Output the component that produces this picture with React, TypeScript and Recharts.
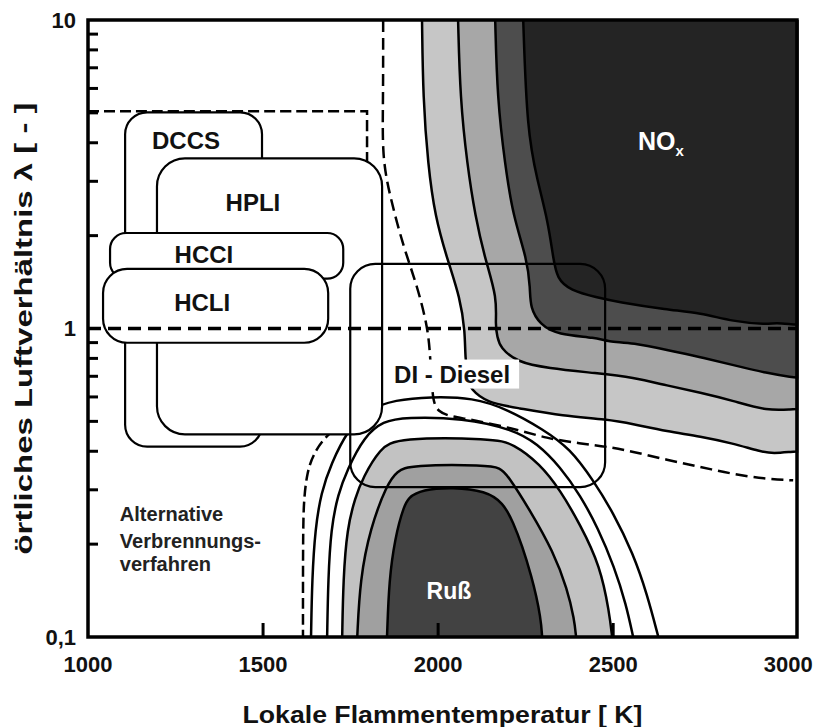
import React from 'react';
import { ScatterChart, Scatter, XAxis, YAxis } from 'recharts';

type P = [number, number]; // [Temperatur K, Luftverhältnis λ]

const FONT = "'Liberation Sans', Arial, Helvetica, sans-serif";

// Achsen
const xTicks = [1000, 1500, 2000, 2500, 3000];
const yTicks = [0.1, 1, 10];
const yMinorTicks = [0.2, 0.3, 0.4, 0.5, 0.6, 0.7, 0.8, 0.9, 2, 3, 4, 5, 6, 7, 8, 9];
const xMinorTicks = [1500, 2000, 2500];

// NOx-Zonen, Konturen von außen nach innen (jeweils bis zum rechten Rand)
const noxOuter: P[] = [
  [1954, 10], [1957, 5.56], [1971, 3.4], [1991, 2.31], [2026, 1.68], [2063, 1.255],
  [2077, 0.977], [2077, 0.802], [2086, 0.68], [2091, 0.639], [2140, 0.574], [2226, 0.553],
  [2357, 0.52], [2483, 0.508], [2557, 0.49], [2654, 0.464], [2749, 0.447], [2843, 0.424],
  [2920, 0.399], [2957, 0.393], [3014, 0.399],
  [3025, 0.399], [3025, 0.399], [3025, 0.399], [3025, 10],
];
const noxMid: P[] = [
  [2057, 10], [2063, 5.56], [2083, 3.4], [2106, 2.31], [2134, 1.68], [2169, 1.255],
  [2163, 1.03], [2169, 0.94], [2177, 0.866], [2226, 0.778], [2311, 0.744], [2454, 0.716],
  [2557, 0.694], [2654, 0.653], [2749, 0.62], [2843, 0.583], [2940, 0.54], [3014, 0.548],
  [3025, 0.548], [3025, 0.548], [3025, 0.548], [3025, 10],
];
const noxInner: P[] = [
  [2163, 10], [2169, 5.56], [2191, 3.4], [2214, 2.31], [2254, 1.68], [2263, 1.35],
  [2263, 1.166], [2291, 1.03], [2340, 0.955], [2454, 0.934], [2483, 0.906], [2557, 0.899],
  [2654, 0.852], [2749, 0.808], [2843, 0.761], [2940, 0.716], [3014, 0.694],
  [3025, 0.694], [3025, 0.694], [3025, 0.694], [3025, 10],
];
const noxCore: P[] = [
  [2243, 10], [2254, 4.37], [2283, 3.03], [2314, 2.22], [2329, 1.68], [2340, 1.45],
  [2377, 1.33], [2454, 1.26], [2511, 1.22], [2654, 1.15], [2749, 1.124], [2843, 1.053],
  [2940, 1.03], [2963, 1.045], [3014, 1.03],
  [3025, 1.03], [3025, 1.03], [3025, 1.03], [3025, 10],
];

// Ruß-Zonen
const russOuter: P[] = [
  [1726, 0.1], [1729, 0.154], [1740, 0.225], [1763, 0.283], [1786, 0.33], [1834, 0.408],
  [1883, 0.443], [2157, 0.44], [2214, 0.424], [2291, 0.364], [2349, 0.299], [2406, 0.231],
  [2463, 0.17], [2489, 0.12], [2497, 0.1],
];
const russMid: P[] = [
  [1769, 0.1], [1777, 0.154], [1806, 0.225], [1854, 0.313], [1883, 0.345], [1920, 0.361],
  [2140, 0.361], [2177, 0.353], [2197, 0.337], [2263, 0.257], [2329, 0.189], [2369, 0.143],
  [2389, 0.114], [2394, 0.1],
];
const russCore: P[] = [
  [1854, 0.1], [1860, 0.154], [1877, 0.209], [1900, 0.263], [1929, 0.306], [2157, 0.306],
  [2214, 0.243], [2271, 0.154], [2294, 0.114], [2297, 0.1],
];
const russLine1: P[] = [
  [1683, 0.1], [1686, 0.154], [1694, 0.225], [1714, 0.29], [1740, 0.348], [1789, 0.447],
  [1843, 0.501], [1906, 0.516], [2071, 0.513], [2214, 0.471], [2283, 0.424], [2349, 0.356],
  [2406, 0.288], [2457, 0.225], [2503, 0.169], [2537, 0.1275], [2557, 0.1],
];
const russLine2: P[] = [
  [1637, 0.1], [1640, 0.154], [1649, 0.225], [1666, 0.294], [1694, 0.364], [1743, 0.471],
  [1800, 0.548], [1877, 0.587], [1977, 0.601], [2100, 0.597], [2197, 0.548], [2300, 0.471],
  [2377, 0.408], [2443, 0.322], [2500, 0.253], [2557, 0.1865], [2597, 0.1376], [2629, 0.1],
];

// Grenze "Alternative Verbrennungsverfahren" (gestrichelt)
const altBoundary: P[] = [
  [1000, 5.06], [1797, 5.06], [1797, 5.06], [1797, 5.06], [1797, 0.705], [1777, 0.583],
  [1734, 0.501], [1677, 0.447], [1643, 0.39], [1626, 0.342], [1617, 0.283], [1614, 0.225],
  [1614, 0.1],
];
// lange gestrichelte Linie
const dashedCurve: P[] = [
  [1843, 10], [1843, 5.56], [1840, 3.58], [1863, 2.67], [1900, 1.85], [1940, 1.38],
  [1971, 1.0], [1977, 0.821], [1983, 0.629], [1991, 0.528], [2071, 0.513], [2214, 0.475],
  [2311, 0.44], [2406, 0.424], [2483, 0.414], [2557, 0.399], [2654, 0.375], [2749, 0.356],
  [2843, 0.337], [2940, 0.325], [3014, 0.322],
];

// Verfahrensfelder (Ecken)
const dccsBox: P[] = [[1106, 5.02], [1497, 0.414]];
const hpliBox: P[] = [[1197, 3.56], [1840, 0.454]];
const hcciBox: P[] = [[1063, 2.04], [1729, 1.45]];
const hcliBox: P[] = [[1043, 1.56], [1686, 0.899]];
const dieselBox: P[] = [[1749, 1.62], [2477, 0.306]];
const lambdaOne: P[] = [[1000, 1], [3025, 1]];
const frame: P[] = [[1000, 0.1], [3025, 10]];

// Beschriftungen
const boxNames = ['DCCS', 'HPLI', 'HCCI', 'HCLI'];
const boxNamePos: P[] = [[1280, 3.83], [1471, 2.41], [1331, 1.63], [1326, 1.14]];
const dieselPos: P = [2040, 0.668];
const noxPos: P = [2571, 3.8];
const russPos: P = [2031, 0.1325];
const altLines = ['Alternative', 'Verbrennungs-', 'verfahren'];
const altPos: P[] = [[1091, 0.238], [1091, 0.194], [1091, 0.164]];

const pts = (a: P[]) => a.map(([x, y]) => ({ x, y }));
const noDot = () => <g />;

const region = (key: string, data: P[], fill: string) => (
  <Scatter key={key} data={pts(data)} shape={noDot} isAnimationActive={false}
    lineJointType="basis" line={{ fill, stroke: '#000', strokeWidth: 2.5 }} />
);

const curve = (key: string, data: P[], width: number, dash?: string, type: any = 'basis') => (
  <Scatter key={key} data={pts(data)} shape={noDot} isAnimationActive={false}
    lineJointType={type} line={{ fill: 'none', stroke: '#000', strokeWidth: width, strokeDasharray: dash }} />
);

const box = (key: string, data: P[], r: number, fill: string, width = 2.2) => (
  <Scatter key={key} data={pts(data)} shape={noDot} isAnimationActive={false}
    line={(p: any) => {
      const [a, b] = p.points;
      return (
        <rect x={Math.min(a.x, b.x)} y={Math.min(a.y, b.y)} width={Math.abs(b.x - a.x)}
          height={Math.abs(b.y - a.y)} rx={r} ry={r} fill={fill} stroke="#000" strokeWidth={width} />
      );
    }} />
);

const label = (key: string, at: P, render: (x: number, y: number) => React.ReactNode) => (
  <Scatter key={key} data={pts([at])} isAnimationActive={false}
    shape={(p: any) => <g>{render(p.cx, p.cy)}</g>} />
);

const txt = { fontFamily: FONT, fontWeight: 700 };

export default function App() {
  return (
    <div style={{ position: 'fixed', left: 0, top: 0, width: 817, height: 727, background: '#fff' }}>
      <ScatterChart width={817} height={727} margin={{ top: 20, right: 20, bottom: 0, left: 0 }}>
        <XAxis type="number" dataKey="x" domain={[1000, 3025]} ticks={xTicks} interval={0}
          axisLine={false} tickLine={false} height={90} tickMargin={13}
          tick={{ fontSize: 22, fontWeight: 700, fill: '#111', fontFamily: FONT }}
          label={{
            value: 'Lokale Flammentemperatur [ K]',
            content: (props: any) => {
              const vb = props.viewBox || { x: 88, y: 637, width: 709, height: 90 };
              return (
                <text x={vb.x + vb.width / 2} y={vb.y + 86} textAnchor="middle" fontSize={24}
                  textLength={400} lengthAdjust="spacingAndGlyphs" fill="#111" {...txt}>
                  Lokale Flammentemperatur [ K]
                </text>
              );
            },
          }} />
        <YAxis type="number" dataKey="y" scale="log" domain={[0.1, 10]} ticks={yTicks} interval={0}
          axisLine={false} tickLine={false} width={88} tickMargin={6}
          tickFormatter={(v: number) => (v === 0.1 ? '0,1' : String(v))}
          tick={{ fontSize: 22, fontWeight: 700, fill: '#111', fontFamily: FONT }}
          label={{
            value: 'örtliches Luftverhältnis λ [ - ]',
            content: (props: any) => {
              const vb = props.viewBox || { x: 0, y: 20, width: 88, height: 617 };
              const x = vb.x + 32;
              const y = vb.y + vb.height / 2;
              return (
                <text x={x} y={y} transform={`rotate(-90 ${x} ${y})`} textAnchor="middle" fontSize={24}
                  textLength={452} lengthAdjust="spacingAndGlyphs" fill="#111" {...txt}>
                  örtliches Luftverhältnis λ [ - ]
                </text>
              );
            },
          }} />

        {region('noxOuter', noxOuter, '#c6c6c6')}
        {region('noxMid', noxMid, '#a7a7a7')}
        {region('noxInner', noxInner, '#4d4d4d')}
        {region('noxCore', noxCore, '#242424')}

        {region('russOuter', russOuter, '#c2c2c2')}
        {region('russMid', russMid, '#a0a0a0')}
        {region('russCore', russCore, '#424242')}
        {curve('russLine1', russLine1, 2.5)}
        {curve('russLine2', russLine2, 2.5)}

        {curve('altBoundary', altBoundary, 2.5, '11 5')}
        {curve('dashedCurve', dashedCurve, 2.5, '12 6')}

        {box('dccs', dccsBox, 22, '#fff')}
        {box('hpli', hpliBox, 28, '#fff')}
        {box('hcci', hcciBox, 16, '#fff')}
        {box('hcli', hcliBox, 24, '#fff')}
        {box('diesel', dieselBox, 25, 'none')}

        {curve('lambdaOne', lambdaOne, 3.5, '13 7', 'linear')}

        {boxNames.map((name, i) =>
          label(`lbl-${name}`, boxNamePos[i], (x, y) => (
            <text x={x} y={y} textAnchor="middle" fontSize={24} fill="#111" {...txt}>{name}</text>
          )),
        )}
        {label('lbl-diesel', dieselPos, (x, y) => (
          <g>
            <rect x={x - 67} y={y - 23} width={134} height={29} fill="#fff" />
            <text x={x} y={y} textAnchor="middle" fontSize={24} fill="#111" {...txt}>DI - Diesel</text>
          </g>
        ))}
        {label('lbl-nox', noxPos, (x, y) => (
          <text x={x} y={y} fontSize={25} fill="#fff" {...txt}>
            NO<tspan fontSize={15} dy={6}>x</tspan>
          </text>
        ))}
        {label('lbl-russ', russPos, (x, y) => (
          <text x={x} y={y} textAnchor="middle" fontSize={23} fill="#fff" {...txt}>Ruß</text>
        ))}
        {altLines.map((line, i) =>
          label(`lbl-alt-${i}`, altPos[i], (x, y) => (
            <text x={x} y={y} fontSize={20} fill="#222" {...txt}>{line}</text>
          )),
        )}

        <Scatter data={yMinorTicks.map((v) => ({ x: 1000, y: v }))} isAnimationActive={false}
          shape={(p: any) => <line x1={p.cx} y1={p.cy} x2={p.cx + 10} y2={p.cy} stroke="#000" strokeWidth={3} />} />
        <Scatter data={xMinorTicks.map((v) => ({ x: v, y: 0.1 }))} isAnimationActive={false}
          shape={(p: any) => <line x1={p.cx} y1={p.cy} x2={p.cx} y2={p.cy - 14} stroke="#000" strokeWidth={3} />} />
        {box('frame', frame, 0, 'none', 3.5)}
      </ScatterChart>
    </div>
  );
}
